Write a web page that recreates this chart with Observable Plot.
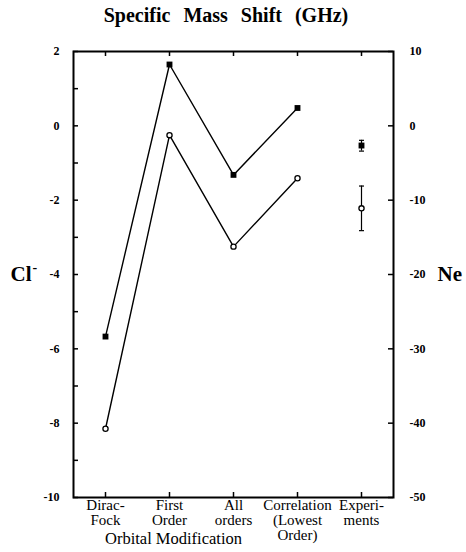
<!DOCTYPE html>
<html>
<head>
<meta charset="utf-8">
<script src="https://cdn.jsdelivr.net/npm/d3@7"></script>
<script src="https://cdn.jsdelivr.net/npm/@observablehq/plot@0.6"></script>
<style>
  body { margin: 0; background: #fff; }
  #title { height: 40px; width: 466px; box-sizing: border-box; padding-top: 4px; padding-right: 14px;
           text-align: center; font-family: "Liberation Serif", serif; font-weight: bold;
           font-size: 20px; word-spacing: 8px; color: #000; }
</style>
</head>
<body>
<div id="title">Specific Mass Shift (GHz)</div>
<div id="chart"></div>
<script>
// Categories (x axis)
const categories = ["Dirac-Fock", "First Order", "All orders", "Correlation", "Experiments"];
const categoryLabels = ["Dirac-\nFock", "First\nOrder", "All\norders", "Correlation\n(Lowest\nOrder)", "Experi-\nments"];
// Square series (left-axis units), first four categories
const squareValues = [-5.67, 1.65, -1.32, 0.48];
// Circle series (left-axis units), first four categories
const circleValues = [-8.15, -0.25, -3.25, -1.41];
// Experiment values with error bars (left-axis units)
const expSquare = {value: -0.53, lo: -0.68, hi: -0.39};
const expCircle = {value: -2.22, lo: -2.82, hi: -1.62};
// Tick labels
const leftTicks = [-10, -8, -6, -4, -2, 0, 2];
const leftMinorTicks = [-10, -9, -8, -7, -6, -5, -4, -3, -2, -1, 0, 1, 2];
const rightTicks = [-50, -40, -30, -20, -10, 0, 10]; // Ne scale = 5 x left scale

const squares = squareValues.map((v, i) => ({cat: categories[i], v}));
const circles = circleValues.map((v, i) => ({cat: categories[i], v}));
const exps = [
  {cat: categories[4], ...expSquare, kind: "square"},
  {cat: categories[4], ...expCircle, kind: "circle"}
];

const capSymbol = {draw(ctx, size) { const w = 2.5; ctx.moveTo(-w, 0); ctx.lineTo(w, 0); }};

const W = 466, H = 512;
const mL = 73, mR = 73, mT = 11, mB = 55;
const plotW = W - mL - mR, plotH = H - mT - mB;
const serif = "Liberation Serif, Times New Roman, serif";

const chart = Plot.plot({
  width: W, height: H,
  marginLeft: mL, marginRight: mR, marginTop: mT, marginBottom: mB,
  style: {fontFamily: serif, color: "#000", background: "#fff", overflow: "visible"},
  x: {type: "point", domain: categories, padding: 0.5, axis: null},
  y: {domain: [-10, 2], axis: null},
  marks: [
    // left-axis inward ticks
    Plot.tickY(leftMinorTicks, {y: d => d, insetRight: plotW - 5, stroke: "#000", strokeWidth: 1.5}),
    // right-axis inward ticks (Ne)
    Plot.tickY(rightTicks, {y: d => d / 5, insetLeft: plotW - 5, stroke: "#000", strokeWidth: 1.5}),
    // top & bottom category ticks
    Plot.tickX(categories, {x: d => d, insetBottom: plotH - 5, stroke: "#000", strokeWidth: 1.5}),
    Plot.tickX(categories, {x: d => d, insetTop: plotH - 5, stroke: "#000", strokeWidth: 1.5}),
    Plot.frame({stroke: "#000", strokeWidth: 2}),
    // left tick labels
    Plot.text(leftTicks, {y: d => d, text: d => String(d), frameAnchor: "left", dx: -14, textAnchor: "end",
      fontSize: 12, fontWeight: "bold"}),
    // right tick labels
    Plot.text(rightTicks, {y: d => d / 5, text: d => String(d), frameAnchor: "right", dx: 16, textAnchor: "start",
      fontSize: 12, fontWeight: "bold"}),
    // axis names
    Plot.text(["Cl"], {y: -4, text: d => d, frameAnchor: "left", dx: -63, textAnchor: "start",
      fontSize: 21, fontWeight: "bold"}),
    Plot.text(["-"], {y: -4, text: d => d, frameAnchor: "left", dx: -41, dy: -7, textAnchor: "start",
      fontSize: 14, fontWeight: "bold"}),
    Plot.text(["Ne"], {y: -4, text: d => d, frameAnchor: "right", dx: 44, textAnchor: "start",
      fontSize: 21, fontWeight: "bold"}),
    // category labels
    Plot.text(categories, {x: d => d, text: (d, i) => categoryLabels[i], frameAnchor: "bottom",
      lineAnchor: "top", dy: 2, fontSize: 15, lineHeight: 1}),
    Plot.text(["Orbital Modification"], {text: d => d, frameAnchor: "bottom", dx: -60, dy: 46,
      lineAnchor: "bottom", fontSize: 16.5}),
    // series lines
    Plot.line(squares, {x: "cat", y: "v", stroke: "#000", strokeWidth: 1.4}),
    Plot.line(circles, {x: "cat", y: "v", stroke: "#000", strokeWidth: 1.4}),
    // error bars
    Plot.ruleX(exps, {x: "cat", y1: "lo", y2: "hi", stroke: "#000", strokeWidth: 1.2}),
    Plot.dot(exps, {x: "cat", y: "lo", symbol: capSymbol, r: 3, stroke: "#000", strokeWidth: 1.2}),
    Plot.dot(exps, {x: "cat", y: "hi", symbol: capSymbol, r: 3, stroke: "#000", strokeWidth: 1.2}),
    // markers
    Plot.dot(squares.concat([{cat: categories[4], v: expSquare.value}]), {x: "cat", y: "v", symbol: "square", r: 3.3, fill: "#000"}),
    Plot.dot(circles.concat([{cat: categories[4], v: expCircle.value}]), {x: "cat", y: "v", symbol: "circle", r: 2.6, fill: "#fff", stroke: "#000", strokeWidth: 1.3})
  ]
});
document.getElementById("chart").appendChild(chart);
</script>
</body>
</html>
